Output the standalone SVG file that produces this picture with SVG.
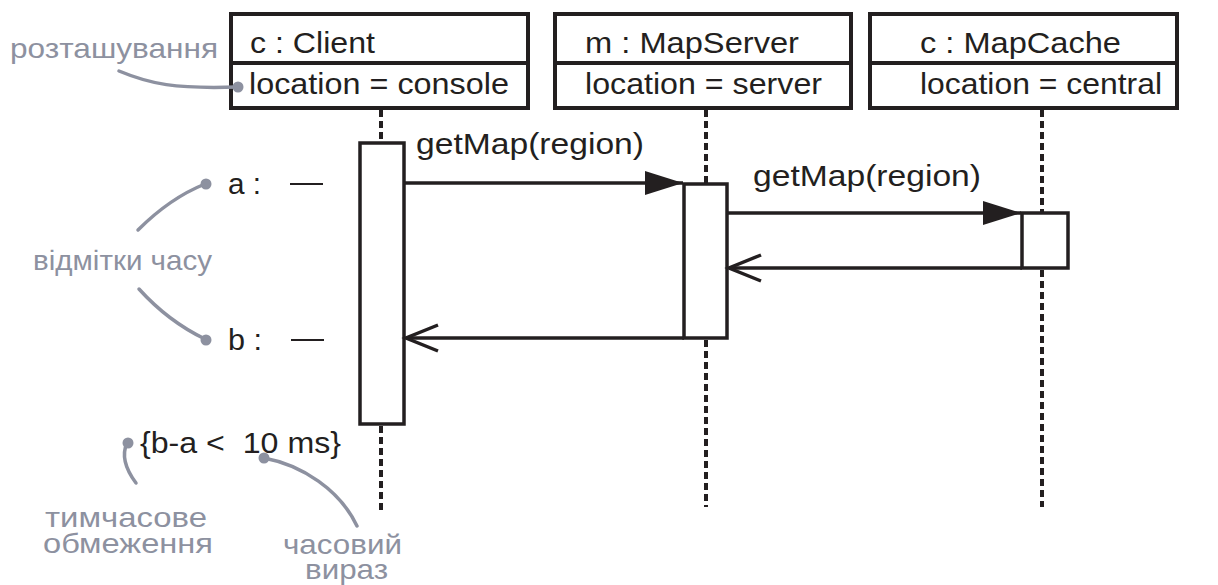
<svg xmlns="http://www.w3.org/2000/svg" width="1218" height="585" viewBox="0 0 1218 585">
<style>
.t{font-family:"Liberation Sans",Arial,sans-serif;font-size:29px;fill:#231f20;white-space:pre}
.g{font-family:"Liberation Sans",Arial,sans-serif;font-size:28px;fill:#8d91a0;white-space:pre}
.box{fill:#fff;stroke:#231f20;stroke-width:4}
.act{fill:#fff;stroke:#231f20;stroke-width:3.5}
.life{stroke:#231f20;stroke-width:4;stroke-dasharray:7 4;fill:none}
.msg{stroke:#231f20;stroke-width:3.5;fill:none}
.note{stroke:#8d91a0;stroke-width:3.5;fill:none;stroke-linecap:round}
.dot{fill:#8d91a0}
</style>
<defs>
<marker id="filled" markerWidth="40" markerHeight="26" refX="38" refY="12" orient="auto" markerUnits="userSpaceOnUse">
<path d="M0,0 L38,12 L0,24 Z" fill="#231f20"/>
</marker>
<marker id="open" markerWidth="40" markerHeight="32" refX="34" refY="15" orient="auto" markerUnits="userSpaceOnUse">
<path d="M2,2 L34,15 L2,28" fill="none" stroke="#231f20" stroke-width="3.5"/>
</marker>
</defs>
<rect width="1218" height="585" fill="#fff"/>

<g id="lifelines">
<line class="life" x1="381" y1="110" x2="381" y2="143"/>
<line class="life" x1="381" y1="426" x2="381" y2="512"/>
<line class="life" x1="706" y1="110" x2="706" y2="184"/>
<line class="life" x1="706" y1="340" x2="706" y2="507"/>
<line class="life" x1="1042" y1="110" x2="1042" y2="213"/>
<line class="life" x1="1042" y1="270" x2="1042" y2="507"/>
</g>

<g id="client">
<rect class="box" x="231" y="14" width="297" height="94"/>
<line class="box" x1="231" y1="63" x2="528" y2="63"/>
<text class="t" x="250" y="53" textLength="125" lengthAdjust="spacingAndGlyphs">c : Client</text>
<text class="t" x="249" y="94" textLength="260" lengthAdjust="spacingAndGlyphs">location = console</text>
<rect class="act" x="360" y="143" width="44" height="281"/>
</g>

<g id="mapserver">
<rect class="box" x="555" y="14" width="296" height="94"/>
<line class="box" x1="555" y1="63" x2="851" y2="63"/>
<text class="t" x="585" y="53" textLength="214" lengthAdjust="spacingAndGlyphs">m : MapServer</text>
<text class="t" x="585" y="94" textLength="237" lengthAdjust="spacingAndGlyphs">location = server</text>
<rect class="act" x="684" y="184" width="43" height="154"/>
</g>

<g id="mapcache">
<rect class="box" x="870" y="14" width="307" height="94"/>
<line class="box" x1="870" y1="63" x2="1177" y2="63"/>
<text class="t" x="920" y="53" textLength="201" lengthAdjust="spacingAndGlyphs">c : MapCache</text>
<text class="t" x="920" y="94" textLength="242" lengthAdjust="spacingAndGlyphs">location = central</text>
<rect class="act" x="1022" y="213" width="46" height="55"/>
</g>

<g id="connectors">
<line class="msg" x1="404" y1="183" x2="683" y2="183" marker-end="url(#filled)"/>
<line class="msg" x1="727" y1="213" x2="1021" y2="213" marker-end="url(#filled)"/>
<line class="msg" x1="1022" y1="268" x2="729" y2="268" marker-end="url(#open)"/>
<line class="msg" x1="684" y1="338" x2="406" y2="338" marker-end="url(#open)"/>
</g>

<g id="labels">
<text class="t" x="416" y="154" textLength="228" lengthAdjust="spacingAndGlyphs">getMap(region)</text>
<text class="t" x="753" y="186" textLength="228" lengthAdjust="spacingAndGlyphs">getMap(region)</text>
<text class="t" x="228" y="194" textLength="33" lengthAdjust="spacingAndGlyphs">a :</text>
<line x1="290" y1="184" x2="323" y2="184" stroke="#231f20" stroke-width="2"/>
<text class="t" x="228" y="350" textLength="34" lengthAdjust="spacingAndGlyphs">b :</text>
<line x1="291" y1="340" x2="324" y2="340" stroke="#231f20" stroke-width="2"/>
<text class="t" x="140" y="453" textLength="201" lengthAdjust="spacingAndGlyphs">{b-a &lt;  10 ms}</text>
</g>

<g id="annotations">
<text class="g" x="10" y="58" textLength="208" lengthAdjust="spacingAndGlyphs">розташування</text>
<path class="note" d="M119,71 C150,84 175,89 237,87"/>
<circle class="dot" cx="238" cy="87" r="5.5"/>
<text class="g" x="33" y="270" textLength="179" lengthAdjust="spacingAndGlyphs">відмітки часу</text>
<path class="note" d="M138,230 C158,210 180,194 205,184"/>
<circle class="dot" cx="206" cy="184" r="5.5"/>
<path class="note" d="M139,289 C158,310 180,327 205,339"/>
<circle class="dot" cx="206" cy="340" r="5.5"/>
<path class="note" d="M127,443 C121,456 127,471 136,483"/>
<circle class="dot" cx="128" cy="443" r="5.5"/>
<path class="note" d="M264,458 C302,465 340,490 357,526"/>
<circle class="dot" cx="264" cy="458" r="5.5"/>
<text class="g" x="45" y="527" textLength="162" lengthAdjust="spacingAndGlyphs">тимчасове</text>
<text class="g" x="43" y="553" textLength="170" lengthAdjust="spacingAndGlyphs">обмеження</text>
<text class="g" x="283" y="554" textLength="119" lengthAdjust="spacingAndGlyphs">часовий</text>
<text class="g" x="305" y="579" textLength="83" lengthAdjust="spacingAndGlyphs">вираз</text>
</g>
</svg>
